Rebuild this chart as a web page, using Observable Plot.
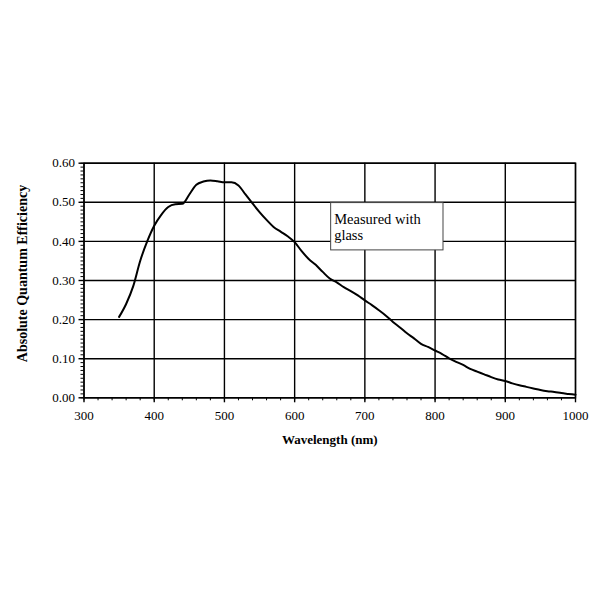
<!DOCTYPE html>
<html>
<head>
<meta charset="utf-8">
<script src="https://cdn.jsdelivr.net/npm/d3@7"></script>
<script src="https://cdn.jsdelivr.net/npm/@observablehq/plot@0.6"></script>
<style>
  html, body { margin: 0; padding: 0; background: #fff; }
  #chart { width: 600px; height: 600px; }
  #chart svg, #chart svg text { font-family: "Liberation Serif", "Times New Roman", serif !important; }
</style>
</head>
<body>
<div id="chart"></div>
<script>
const wavelength = [350,360,370,380,390,400,410,420,430,440,450,460,470,480,490,500,510,520,530,540,550,560,570,580,590,600,610,620,630,640,650,660,670,680,690,700,710,720,730,740,750,760,770,780,790,800,810,820,830,840,850,860,870,880,890,900,910,920,930,940,950,960,970,980,990,1000];
const efficiency = [0.207,0.240,0.285,0.350,0.400,0.440,0.468,0.488,0.495,0.496,0.520,0.545,0.553,0.556,0.554,0.551,0.551,0.543,0.520,0.497,0.475,0.455,0.437,0.425,0.413,0.398,0.375,0.355,0.340,0.322,0.305,0.295,0.283,0.273,0.262,0.249,0.237,0.224,0.210,0.194,0.180,0.165,0.152,0.138,0.130,0.121,0.112,0.101,0.092,0.084,0.074,0.067,0.060,0.053,0.047,0.043,0.037,0.032,0.028,0.024,0.020,0.017,0.015,0.012,0.010,0.008];
const xTicks = [300,400,500,600,700,800,900,1000];
const yTicks = [0,0.1,0.2,0.3,0.4,0.5,0.6];
const xMinorTicks = d3.range(300, 1001, 20);
const yMinorTicks = d3.range(0, 61, 1).map(d => d / 100);
const xLabel = "Wavelength (nm)";
const yLabel = "Absolute Quantum Efficiency";
const noteText = "Measured with\nglass";
const noteBox = [{x1: 652, x2: 812, y1: 0.498, y2: 0.377}];

const data = wavelength.map((w, i) => ({w, e: efficiency[i]}));

const chart = Plot.plot({
  width: 600,
  height: 600,
  marginLeft: 83.5,
  marginRight: 25,
  marginTop: 162.7,
  marginBottom: 202.7,
  style: {fontFamily: "'Liberation Serif', 'Times New Roman', serif", fontSize: "13px", background: "#fff", color: "#000"},
  x: {domain: [300, 1000]},
  y: {domain: [0, 0.6]},
  marks: [
    Plot.gridX(xTicks, {stroke: "#000", strokeOpacity: 1, strokeWidth: 1.4}),
    Plot.gridY(yTicks, {stroke: "#000", strokeOpacity: 1, strokeWidth: 1.4}),
    Plot.axisX(xMinorTicks, {tickSize: 3, tickFormat: () => "", label: null, strokeWidth: 1}),
    Plot.axisY(yMinorTicks, {tickSize: 3, tickFormat: () => "", label: null, strokeWidth: 1}),
    Plot.axisX(xTicks, {tickSize: 5, tickPadding: 8, tickFormat: d => String(d), label: null, fontSize: 13, strokeWidth: 1.4}),
    Plot.axisY(yTicks, {tickSize: 5, tickPadding: 4, tickFormat: d3.format(".2f"), label: null, fontSize: 13, strokeWidth: 1.4}),
    Plot.frame({stroke: "#000", strokeWidth: 1.4}),
    Plot.line(data, {x: "w", y: "e", stroke: "#000", strokeWidth: 2, curve: "monotone-x"}),
    Plot.rect(noteBox, {x1: "x1", x2: "x2", y1: "y1", y2: "y2", fill: "#fff", stroke: "#444", strokeWidth: 1}),
    Plot.text(noteBox, {x: "x1", y: "y1", text: () => noteText, textAnchor: "start", lineAnchor: "top", dx: 3, dy: 10, lineHeight: 1.1, fontSize: 14.5, fill: "#000"}),
    Plot.text([xLabel], {frameAnchor: "bottom", dy: 46, text: d => d, textAnchor: "middle", fontWeight: "bold", fontSize: 13, fill: "#000"}),
    Plot.text([yLabel], {frameAnchor: "left", dx: -61, dy: -7, rotate: -90, text: d => d, textAnchor: "middle", fontWeight: "bold", fontSize: 14, fill: "#000"})
  ]
});
document.getElementById("chart").appendChild(chart);
</script>
</body>
</html>
